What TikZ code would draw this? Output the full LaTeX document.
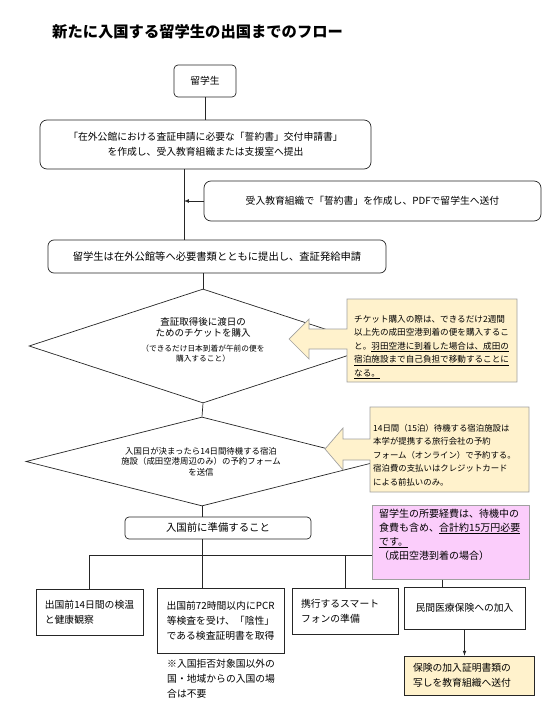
\documentclass[tikz,border=0pt]{standalone}
\usepackage{fontspec}
\setmainfont{Noto Sans CJK JP}
\usepackage{tikz}
\usetikzlibrary{arrows,shapes.geometric}
\definecolor{noteyellow}{HTML}{FFF2CC}
\definecolor{notepink}{HTML}{FBCDFB}
\definecolor{noteedge}{HTML}{A0A0A0}
\newcommand{\fsz}[2]{\fontsize{#1}{#2}\selectfont}

\begin{document}
\begin{tikzpicture}[x=1pt,y=-1pt,
    flow/.style={draw=black!85,line width=0.7pt},
    roundbox/.style={draw=black!85,line width=0.7pt,rounded corners=6pt,align=center,inner sep=0pt,font=\fsz{9.8}{15}},
    plainbox/.style={draw=black!85,line width=0.7pt,align=left,inner sep=0pt,font=\fsz{9.8}{15}},
    decision/.style={diamond,draw=black!85,line width=0.7pt,inner sep=0pt},
    notetext/.style={anchor=north west,align=left,inner sep=0pt},
    calloutshape/.style={fill=noteyellow,draw=noteedge,line width=0.7pt}]
    \useasboundingbox (0,0) rectangle (558,712);
    % title
    \node[anchor=west,inner sep=0pt,font=\fsz{15.3}{18}\bfseries] (title) at (52,31.5) {新たに入国する留学生の出国までのフロー};
    % upper part of the flow
    \node[roundbox,rounded corners=4pt,minimum width=62pt,minimum height=32pt] (stu) at (205,81) {留学生};
    \node[roundbox,rounded corners=7pt,minimum width=331pt,minimum height=49pt] (apply) at (205.5,144.5) {「在外公館における査証申請に必要な「誓約書」交付申請書」\\を作成し、受入教育組織または支援室へ提出};
    \node[roundbox,rounded corners=7pt,minimum width=337pt,minimum height=40pt] (pledge) at (372.5,201) {受入教育組織で「誓約書」を作成し、PDFで留学生へ送付};
    \node[roundbox,font=\fsz{10.3}{15},minimum width=338pt,minimum height=33pt] (visa) at (217,256.5) {留学生は在外公館等へ必要書類とともに提出し、査証発給申請};
    \coordinate (spine) at (184,0);
    \draw[flow] (stu.south) -- (stu.south |- apply.north);
    \draw[flow] (apply.south -| spine) -- (visa.north -| spine);
    \draw[flow,-latex] (pledge.west) -- (pledge.west -| spine);
    % decisions
    \node[decision,minimum width=348pt,minimum height=114pt] (ticket) at (203,346) {};
    \node[align=center,inner sep=0pt,font=\fsz{9.5}{11}] (ticketmain) at (203,327.8) {査証取得後に渡日の\\ためのチケットを購入};
    \node[align=center,inner sep=0pt,font=\fsz{7.7}{10.7}] (ticketnote) at (203,353.6) {（できるだけ日本到着が午前の便を\\購入すること）};
    \node[decision,minimum width=352pt,minimum height=89pt] (hotel) at (202,461.5) {};
    \node[align=center,inner sep=0pt,font=\fsz{8.4}{10.4}] (hoteltext) at (201,461.5) {入国日が決まったら14日間待機する宿泊\\施設（成田空港周辺のみ）の予約フォーム\\を送信};
    \draw[flow] (ticket.north |- visa.south) -- (ticket.north);
    \draw[flow] (ticket.south) -- (hotel.north);
    % callouts
    \draw[calloutshape] (517,299) -- (347,299) -- (347,329) -- (309,329) -- (309,319) -- (289,339) -- (309,359) -- (309,349) -- (347,349) -- (347,382) -- (517,382) -- cycle;
    \node[notetext,font=\fsz{8.6}{13.5}] (tickettip) at (354,314.7) {チケット購入の際は、できるだけ2週間\\以上先の成田空港到着の便を購入するこ\\と。\underline{羽田空港に到着した場合は、成田の}\\\underline{宿泊施設まで自己負担で移動することに}\\\underline{なる。}};
    \draw[calloutshape] (529,407) -- (370,407) -- (370,439) -- (343,439) -- (343,428) -- (325,449) -- (343,470) -- (343,460) -- (370,460) -- (370,492) -- (529,492) -- cycle;
    \node[notetext,font=\fsz{8.4}{13.5}] (hoteltip) at (373,423.8) {14日間（15泊）待機する宿泊施設は\\本学が提携する旅行会社の予約\\フォーム（オンライン）で予約する。\\宿泊費の支払いはクレジットカード\\による前払いのみ。};
    % preparation
    \node[roundbox,font=\fsz{10.4}{15},rounded corners=4pt,minimum width=186pt,minimum height=22pt] (prep) at (218,528) {入国前に準備すること};
    \node[draw=noteedge,fill=notepink,line width=0.7pt,minimum width=157pt,minimum height=74pt,anchor=north west,inner sep=0pt] (cost) at (372,505) {};
    \node[notetext,font=\fsz{10}{14}] (costtext) at (379,508.8) {留学生の所要経費は、待機中の\\食費も含め、\underline{合計約15万円必要}\\\underline{です。}\\（成田空港到着の場合）};
    \draw[flow] (hotel.south) -- (hotel.south |- prep.north);
    \coordinate (bus) at (0,555);
    \coordinate (drop) at (442,0);
    % bottom boxes
    \node[plainbox,minimum width=107pt,minimum height=46pt] (boxa) at (89.5,612) {出国前14日間の検温\\と健康観察};
    \node[plainbox,align=center,minimum width=127pt,minimum height=65pt] (boxb) at (220.5,620.5) {出国前72時間以内にPCR\\等検査を受け、「陰性」\\である検査証明書を取得};
    \node[plainbox,text width=88pt,minimum width=106pt,minimum height=46pt] (boxc) at (345,611) {携行するスマート\\フォンの準備};
    \node[plainbox,minimum width=121pt,minimum height=42pt] (boxd) at (464.5,608) {民間医療保険への加入};
    \node[plainbox,fill=noteyellow,text width=112pt,minimum width=130pt,minimum height=39pt] (boxe) at (469,675.5) {保険の加入証明書類の\\写しを教育組織へ送付};
    \node[notetext,font=\fsz{9.8}{15}] (boxbnote) at (167,659) {※入国拒否対象国以外の\\国・地域からの入国の場\\合は不要};
    \draw[flow] (hotel.south |- prep.south) -- (hotel.south |- bus);
    \draw[flow] (boxa.north |- bus) -- (cost.west |- bus);
    \draw[flow] (boxa.north |- bus) -- (boxa.north);
    \draw[flow] (hotel.south |- bus) -- (hotel.south |- boxb.north);
    \draw[flow] (boxc.north |- bus) -- (boxc.north);
    \draw[flow] (cost.south -| drop) -- (boxd.north -| drop);
    \draw[flow,-latex] (boxd.south) -- (boxd.south |- boxe.north);
\end{tikzpicture}
\end{document}
